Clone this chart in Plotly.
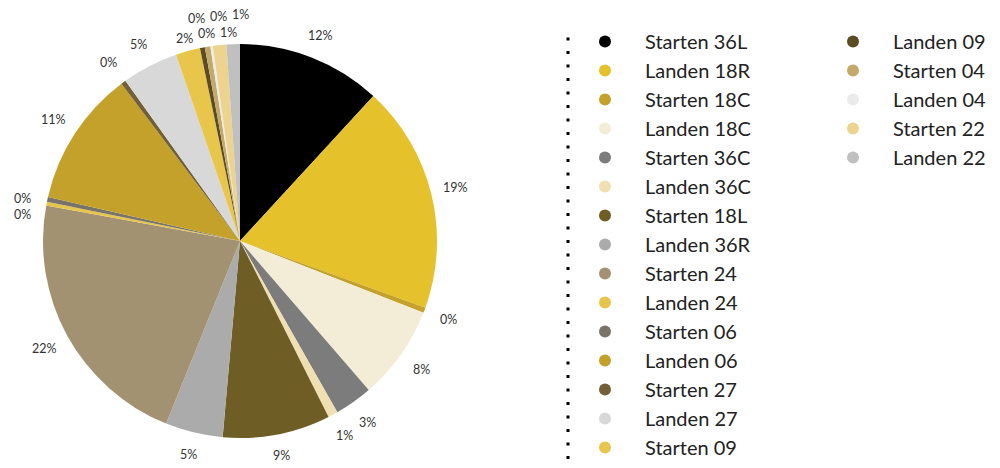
import math
import plotly.graph_objects as go

labels = ["Starten 36L", "Landen 18R", "Starten 18C", "Landen 18C", "Starten 36C",
          "Landen 36C", "Starten 18L", "Landen 36R", "Starten 24", "Landen 24",
          "Starten 06", "Landen 06", "Starten 27", "Landen 27", "Starten 09",
          "Landen 09", "Starten 04", "Landen 04", "Starten 22", "Landen 22"]
values = [11.8, 18.6, 0.45, 7.7, 3.1,
          0.8, 8.8, 4.7, 21.7, 0.3,
          0.4, 11.1, 0.4, 4.6, 2.0,
          0.4, 0.45, 0.2, 1.1, 1.1]
colors = ["#000000", "#E5C22B", "#C4A12A", "#F3EDD7", "#7B7C7B",
          "#F0DFB0", "#6E5D24", "#ABABAB", "#A39272", "#E6C54A",
          "#78746A", "#C4A12A", "#715F3A", "#D8D8D8", "#E8C64B",
          "#5C4B23", "#C4AA6A", "#EBEBEB", "#EDD48E", "#C0C0C0"]

FONT = "Lato, 'Noto Sans', sans-serif"
W, H = 1000, 468
dom_x = [0.035, 0.429]
dom_y = [0.0812, 0.9231]

fig = go.Figure()
fig.add_trace(go.Pie(
    labels=labels, values=values, sort=False, direction="clockwise", rotation=0,
    marker=dict(colors=colors, line=dict(width=0)),
    textinfo="none", showlegend=False, hoverinfo="label+percent",
    domain=dict(x=dom_x, y=dom_y),
))

# percentage labels just outside the pie, staggered where they would collide
cx = (dom_x[0] + dom_x[1]) / 2 * W
cy = (1 - (dom_y[0] + dom_y[1]) / 2) * H
R = min((dom_x[1] - dom_x[0]) * W, (dom_y[1] - dom_y[0]) * H) / 2
total = sum(values)


def clash(a, b, gap=2):
    return abs(a["x"] - b["x"]) < (a["w"] + b["w"]) / 2 + gap and abs(a["y"] - b["y"]) < 12


pos = []
cum = 0
for v in values:
    pct = v / total
    mid = (cum + pct / 2) * 2 * math.pi
    cum += pct
    s, c = math.sin(mid), math.cos(mid)
    txt = f"{round(pct * 100)}%"
    r = R + 14 + 10 * abs(s) + 6 * abs(c)
    lab = dict(x=cx + r * s, y=cy - r * c, w=8 * len(txt), level="default", a=mid, txt=txt)
    if pos and clash(lab, pos[-1]):
        p = pos[-1]
        if abs(s) > 0.8:
            lab["y"] = p["y"] - 16 if c < 0 else p["y"] + 16
        else:
            if p["level"] == "default":
                p["x"], p["y"] = cx + (R + 13) * math.sin(p["a"]), cy - (R + 13) * math.cos(p["a"])
                p["level"] = "inner"
            lab["level"] = "outer" if p["level"] == "inner" else "inner"
            r = R + 30 if lab["level"] == "outer" else R + 13
            lab["x"], lab["y"] = cx + r * s, cy - r * c
            for q in pos:
                if clash(lab, q, 6):
                    lab["x"] = q["x"] + (lab["w"] + q["w"]) / 2 + 6
    pos.append(lab)

annotations = [dict(x=p["x"] / W, y=1 - p["y"] / H, xref="paper", yref="paper", text=p["txt"],
                    xanchor="center", yanchor="middle", showarrow=False,
                    font=dict(size=12.5, color="#333333", family=FONT))
               for p in pos]

# legend entries as round markers, split into two columns
for i, (lab, col) in enumerate(zip(labels, colors)):
    fig.add_trace(go.Scatter(
        x=[None], y=[None], mode="markers", name=lab,
        marker=dict(color=col, size=16, symbol="circle"),
        legend="legend" if i < 15 else "legend2",
    ))

leg = dict(font=dict(size=20, color="#222222", family=FONT), bgcolor="rgba(0,0,0,0)",
           yanchor="top", xanchor="left", itemsizing="constant", itemwidth=70)
fig.update_layout(
    width=W, height=H,
    margin=dict(l=0, r=0, t=0, b=0),
    paper_bgcolor="white", plot_bgcolor="white",
    xaxis=dict(visible=False), yaxis=dict(visible=False),
    legend=dict(leg, x=0.557, y=0.97),
    legend2=dict(leg, x=0.805, y=0.97),
    annotations=annotations,
    shapes=[dict(type="line", xref="paper", yref="paper", x0=0.56, x1=0.56,
                 y0=-0.05, y1=0.9455, line=dict(color="black", width=3, dash="3px,10.5px"))],
)

fig.write_html("out.html")
